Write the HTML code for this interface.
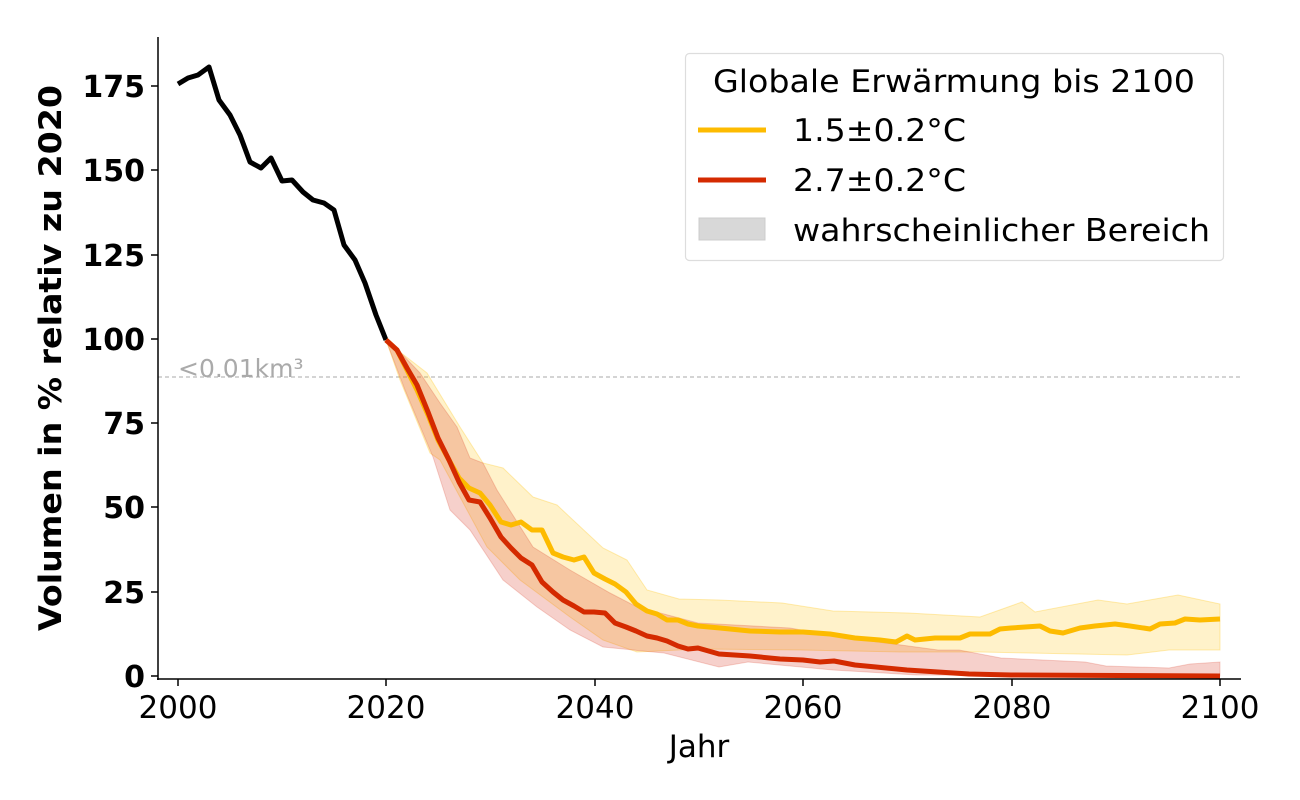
<!DOCTYPE html>
<html><head><meta charset="utf-8"><style>
html,body{margin:0;padding:0;background:#fff;}
svg{display:block;font-family:"DejaVu Sans","Liberation Sans",sans-serif;}
</style></head><body>
<svg width="1300" height="800" viewBox="0 0 1300 800" xmlns="http://www.w3.org/2000/svg">
<rect width="1300" height="800" fill="#fff"/>
<line x1="158" y1="377" x2="1241" y2="377" stroke="#bbb" stroke-width="1.2" stroke-dasharray="4,3"/>
<text x="178" y="377" font-size="25" fill="#aaa">&lt;0.01km³</text>
<polygon fill="#ffc20e" fill-opacity="0.22" stroke="#ffc20e" stroke-opacity="0.3" points="386,340 400,352 427,373 460,427 483,463 503,468 533,497 557,505 573,520 603,548 627,560 647,590 679,599 719,600 782,603 833,611 908,613 980,617 1022,602 1035,612 1098,600 1127,604 1178,595 1220,604 1220,650 1169,650 1127,655 980,652 900,652 800,650 700,649 637,652 603,640 570,617 520,580 487,547 440,460 430,453 400,380 386,340"/>
<polygon fill="#d62a10" fill-opacity="0.22" stroke="#d62a10" stroke-opacity="0.2" points="386,340 400,352 420,373 440,403 457,427 470,458 483,463 497,490 533,547 570,570 610,593 637,607 664,614 698,623 790,628 841,637 938,650 959,650 1001,658 1085,662 1106,666 1169,668 1190,664 1220,662 1220,676 917,675 833,670 748,662 719,667 664,653 653,652 603,647 570,630 537,607 503,580 470,530 450,510 433,457 405,390 386,340"/>
<polyline fill="none" stroke="#000" stroke-width="5" stroke-linejoin="round" points="178,84 188,78 198,75 209,67 219,100 230,115 240,135 250,162 261,168 271,158 282,181 292,180 303,192 313,200 324,203 334,210 344,245 355,260 365,283 376,315 386,340"/>
<polyline fill="none" stroke="#fdbb00" stroke-width="5" stroke-linejoin="round" points="386,340 397,350 407,370 417,390 428,415 438,440 449,460 459,478 469,488 480,493 490,505 501,522 511,525 521,522 532,530 542,530 553,553 563,557 574,560 584,557 594,573 605,579 615,584 626,592 636,604 647,611 657,614 667,620 678,620 688,624 698,626 720,628 750,631 780,632 803,632 830,634 855,638 880,640 896,642 907,636 915,640 935,638 960,638 970,634 990,634 1000,629 1011,628 1040,626 1050,631 1063,633 1080,628 1095,626 1115,624 1130,626 1150,629 1160,624 1175,623 1185,619 1200,620 1220,619"/>
<polyline fill="none" stroke="#d42a00" stroke-width="5" stroke-linejoin="round" points="386,340 397,350 407,368 417,385 428,412 438,438 449,460 459,482 469,500 480,502 490,518 501,537 511,548 521,558 532,565 542,582 553,592 563,600 574,606 584,612 594,612 605,613 615,623 626,627 636,631 647,636 657,638 667,641 678,646 688,649 698,648 719,654 750,656 780,659 803,660 820,662 834,661 855,665 876,667 907,670 938,672 969,674 1011,675 1220,676"/>
<line x1="158" y1="37" x2="158" y2="680" stroke="#000" stroke-width="1.5"/>
<line x1="157" y1="679" x2="1241" y2="679" stroke="#000" stroke-width="1.5"/>
<g stroke="#000" stroke-width="1.5">
<line x1="151" y1="676" x2="158" y2="676"/><line x1="151" y1="592" x2="158" y2="592"/><line x1="151" y1="507" x2="158" y2="507"/><line x1="151" y1="423" x2="158" y2="423"/><line x1="151" y1="339" x2="158" y2="339"/><line x1="151" y1="255" x2="158" y2="255"/><line x1="151" y1="170" x2="158" y2="170"/><line x1="151" y1="86" x2="158" y2="86"/>
<line x1="178" y1="679" x2="178" y2="686"/><line x1="386" y1="679" x2="386" y2="686"/><line x1="595" y1="679" x2="595" y2="686"/><line x1="803" y1="679" x2="803" y2="686"/><line x1="1012" y1="679" x2="1012" y2="686"/><line x1="1220" y1="679" x2="1220" y2="686"/>
</g>
<g font-size="30" font-weight="bold" text-anchor="end">
<text x="145" y="687">0</text><text x="145" y="603">25</text><text x="145" y="518">50</text><text x="145" y="434">75</text><text x="145" y="350">100</text><text x="145" y="266">125</text><text x="145" y="181">150</text><text x="145" y="97">175</text>
</g>
<g font-size="31" text-anchor="middle">
<text x="178" y="718">2000</text><text x="386" y="718">2020</text><text x="595" y="718">2040</text><text x="803" y="718">2060</text><text x="1012" y="718">2080</text><text x="1220" y="718">2100</text>
</g>
<text x="699" y="757" font-size="31" text-anchor="middle">Jahr</text>
<text transform="translate(61,358) rotate(-90)" font-size="31" font-weight="bold" text-anchor="middle" textLength="546" lengthAdjust="spacingAndGlyphs">Volumen in % relativ zu 2020</text>
<rect x="685.5" y="53.5" width="538" height="207" rx="4" fill="#fff" fill-opacity="0.8" stroke="#ddd" stroke-width="1.2"/>
<text x="713" y="92" font-size="31" textLength="482" lengthAdjust="spacingAndGlyphs">Globale Erwärmung bis 2100</text>
<line x1="698" y1="130" x2="766" y2="130" stroke="#fdbb00" stroke-width="5"/>
<text x="793" y="141" font-size="31" textLength="173" lengthAdjust="spacingAndGlyphs">1.5±0.2°C</text>
<line x1="698" y1="180" x2="766" y2="180" stroke="#d42a00" stroke-width="5"/>
<text x="793" y="191" font-size="31" textLength="173" lengthAdjust="spacingAndGlyphs">2.7±0.2°C</text>
<rect x="699" y="218" width="66" height="22" fill="#d8d8d8" stroke="#ccc"/>
<text x="793" y="241" font-size="31" textLength="417" lengthAdjust="spacingAndGlyphs">wahrscheinlicher Bereich</text>
</svg>
</body></html>
